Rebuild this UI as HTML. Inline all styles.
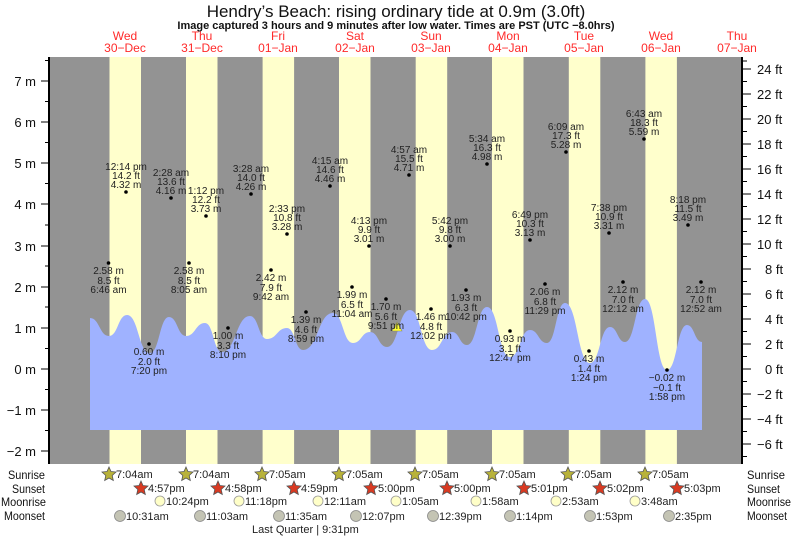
<!DOCTYPE html>
<html><head><meta charset="utf-8"><style>
html,body{margin:0;padding:0;background:#fff;}
svg{display:block;font-family:"Liberation Sans",sans-serif;}
</style></head><body>
<svg width="793" height="538" viewBox="0 0 793 538" xmlns="http://www.w3.org/2000/svg">
<rect width="793" height="538" fill="#fff"/>
<text x="396" y="17" font-size="17" text-anchor="middle" fill="#111">Hendry’s Beach: rising  ordinary tide at 0.9m (3.0ft)</text>
<text x="396" y="29" font-size="11" font-weight="bold" text-anchor="middle" fill="#111">Image captured 3 hours and 9 minutes after low water. Times are PST (UTC −8.0hrs)</text>
<g font-size="12" fill="#ff2a2a" text-anchor="middle">
<text x="125" y="40">Wed</text><text x="125" y="52">30−Dec</text>
<text x="202" y="40">Thu</text><text x="202" y="52">31−Dec</text>
<text x="278" y="40">Fri</text><text x="278" y="52">01−Jan</text>
<text x="355" y="40">Sat</text><text x="355" y="52">02−Jan</text>
<text x="431" y="40">Sun</text><text x="431" y="52">03−Jan</text>
<text x="508" y="40">Mon</text><text x="508" y="52">04−Jan</text>
<text x="584" y="40">Tue</text><text x="584" y="52">05−Jan</text>
<text x="661" y="40">Wed</text><text x="661" y="52">06−Jan</text>
<text x="737" y="40">Thu</text><text x="737" y="52">07−Jan</text>
</g>
<rect x="49" y="57" width="693" height="407" fill="#939393"/>
<g fill="#ffffcc">
<rect x="109.5" y="57" width="31.5" height="407"/>
<rect x="186" y="57" width="31.5" height="407"/>
<rect x="262.6" y="57" width="31.5" height="407"/>
<rect x="339" y="57" width="31.5" height="407"/>
<rect x="415.7" y="57" width="31.5" height="407"/>
<rect x="492" y="57" width="31.5" height="407"/>
<rect x="568.8" y="57" width="31.5" height="407"/>
<rect x="645.4" y="57" width="31.5" height="407"/>
</g>
<path fill="#9fb2ff" d="M90,430 L90,318 C99.5,318 99.5,336 109,336 C118,336 118,315 127,315 C138.5,315 138.5,353 150,353 C159.5,353 159.5,317 169,317 C177.5,317 177.5,336 186,336 C195.5,336 195.5,323 205,323 C213.5,323 213.5,352 222,352 C236,352 236,316 250,316 C258.5,316 258.5,339 267,339 C277,339 277,328 287,328 C295,328 295,350 303,350 C318,350 318,313 333,313 C343,313 343,343 353,343 C361.5,343 361.5,332 370,332 C378.5,332 378.5,347 387,347 C398.5,347 398.5,310 410,310 C421,310 421,350 432,350 C442,350 442,332 452,332 C459.5,332 459.5,345 467,345 C477,345 477,307 487,307 C498.5,307 498.5,357 510,357 C520,357 520,330 530,330 C538.5,330 538.5,343 547,343 C556,343 556,303 565,303 C577.5,303 577.5,363 590,363 C600,363 600,327 610,327 C617.5,327 617.5,342 625,342 C635,342 635,299 645,299 C656,299 656,370 667,370 C677,370 677,325 687,325 C694.5,325 694.5,342 702,342 L702,430 Z"/>
<line x1="49" y1="57" x2="49" y2="464" stroke="#000" stroke-width="2"/>
<line x1="742" y1="57" x2="742" y2="464" stroke="#000" stroke-width="2"/>
<g stroke="#000" stroke-width="1">
<line x1="41" y1="81" x2="48" y2="81"/><line x1="41" y1="122" x2="48" y2="122"/><line x1="41" y1="163" x2="48" y2="163"/><line x1="41" y1="204" x2="48" y2="204"/><line x1="41" y1="246" x2="48" y2="246"/><line x1="41" y1="287" x2="48" y2="287"/><line x1="41" y1="328" x2="48" y2="328"/><line x1="41" y1="369" x2="48" y2="369"/><line x1="41" y1="410" x2="48" y2="410"/><line x1="41" y1="451" x2="48" y2="451"/>
<line x1="45" y1="60.5" x2="48" y2="60.5"/><line x1="45" y1="101.5" x2="48" y2="101.5"/><line x1="45" y1="142.5" x2="48" y2="142.5"/><line x1="45" y1="183.5" x2="48" y2="183.5"/><line x1="45" y1="225" x2="48" y2="225"/><line x1="45" y1="266" x2="48" y2="266"/><line x1="45" y1="307" x2="48" y2="307"/><line x1="45" y1="348.5" x2="48" y2="348.5"/><line x1="45" y1="389.5" x2="48" y2="389.5"/><line x1="45" y1="430.5" x2="48" y2="430.5"/>
</g>
<g font-size="13" fill="#111" text-anchor="end">
<text x="36" y="86">7 m</text><text x="36" y="127">6 m</text><text x="36" y="168">5 m</text><text x="36" y="209">4 m</text><text x="36" y="251">3 m</text><text x="36" y="292">2 m</text><text x="36" y="333">1 m</text><text x="36" y="374">0 m</text><text x="36" y="415">−1 m</text><text x="36" y="456">−2 m</text>
</g>
<g stroke="#000" stroke-width="1">
<line x1="743" y1="69" x2="751" y2="69"/><line x1="743" y1="94" x2="751" y2="94"/><line x1="743" y1="119" x2="751" y2="119"/><line x1="743" y1="144" x2="751" y2="144"/><line x1="743" y1="169" x2="751" y2="169"/><line x1="743" y1="194" x2="751" y2="194"/><line x1="743" y1="219" x2="751" y2="219"/><line x1="743" y1="244" x2="751" y2="244"/><line x1="743" y1="269" x2="751" y2="269"/><line x1="743" y1="294" x2="751" y2="294"/><line x1="743" y1="319" x2="751" y2="319"/><line x1="743" y1="344" x2="751" y2="344"/><line x1="743" y1="369" x2="751" y2="369"/><line x1="743" y1="394" x2="751" y2="394"/><line x1="743" y1="419" x2="751" y2="419"/><line x1="743" y1="444" x2="751" y2="444"/>
<line x1="743" y1="81.5" x2="747" y2="81.5"/><line x1="743" y1="106.5" x2="747" y2="106.5"/><line x1="743" y1="131.5" x2="747" y2="131.5"/><line x1="743" y1="156.5" x2="747" y2="156.5"/><line x1="743" y1="181.5" x2="747" y2="181.5"/><line x1="743" y1="206.5" x2="747" y2="206.5"/><line x1="743" y1="231.5" x2="747" y2="231.5"/><line x1="743" y1="256.5" x2="747" y2="256.5"/><line x1="743" y1="281.5" x2="747" y2="281.5"/><line x1="743" y1="306.5" x2="747" y2="306.5"/><line x1="743" y1="331.5" x2="747" y2="331.5"/><line x1="743" y1="356.5" x2="747" y2="356.5"/><line x1="743" y1="381.5" x2="747" y2="381.5"/><line x1="743" y1="406.5" x2="747" y2="406.5"/><line x1="743" y1="431.5" x2="747" y2="431.5"/><line x1="743" y1="456.5" x2="747" y2="456.5"/><line x1="743" y1="61" x2="747" y2="61"/>
</g>
<g font-size="13" fill="#111">
<text x="757" y="74">24 ft</text><text x="757" y="99">22 ft</text><text x="757" y="124">20 ft</text><text x="757" y="149">18 ft</text><text x="757" y="174">16 ft</text><text x="757" y="199">14 ft</text><text x="757" y="224">12 ft</text><text x="757" y="249">10 ft</text><text x="765" y="274">8 ft</text><text x="765" y="299">6 ft</text><text x="765" y="324">4 ft</text><text x="765" y="349">2 ft</text><text x="765" y="374">0 ft</text><text x="757" y="399">−2 ft</text><text x="757" y="424">−4 ft</text><text x="757" y="449">−6 ft</text>
</g>
<g fill="#000">
<circle cx="108.5" cy="263" r="1.8"/><circle cx="126" cy="192" r="1.8"/><circle cx="149" cy="344" r="1.8"/><circle cx="171" cy="198" r="1.8"/><circle cx="189" cy="263" r="1.8"/><circle cx="206" cy="216" r="1.8"/><circle cx="228" cy="328" r="1.8"/><circle cx="251" cy="194" r="1.8"/><circle cx="271" cy="270" r="1.8"/><circle cx="287" cy="234" r="1.8"/><circle cx="306" cy="312" r="1.8"/><circle cx="330" cy="186" r="1.8"/><circle cx="352" cy="287" r="1.8"/><circle cx="369" cy="246" r="1.8"/><circle cx="386" cy="299" r="1.8"/><circle cx="409" cy="175" r="1.8"/><circle cx="431" cy="309" r="1.8"/><circle cx="450" cy="246" r="1.8"/><circle cx="466" cy="290" r="1.8"/><circle cx="487" cy="164" r="1.8"/><circle cx="510" cy="331" r="1.8"/><circle cx="530" cy="240" r="1.8"/><circle cx="545" cy="284" r="1.8"/><circle cx="566" cy="152" r="1.8"/><circle cx="589" cy="351" r="1.8"/><circle cx="609" cy="233" r="1.8"/><circle cx="623" cy="282" r="1.8"/><circle cx="644" cy="139" r="1.8"/><circle cx="667" cy="370" r="1.8"/><circle cx="688" cy="225" r="1.8"/><circle cx="701" cy="282" r="1.8"/>
</g>
<polygon points="397,322 402,331 392,331" fill="#ffff33" stroke="#886" stroke-width="0.6"/>
<g font-size="10" fill="#222" text-anchor="middle">
<text x="108.5" y="274">2.58 m</text><text x="108.5" y="284">8.5 ft</text><text x="108.5" y="293">6:46 am</text>
<text x="126" y="170">12:14 pm</text><text x="126" y="179">14.2 ft</text><text x="126" y="188">4.32 m</text>
<text x="149" y="355">0.60 m</text><text x="149" y="365">2.0 ft</text><text x="149" y="374">7:20 pm</text>
<text x="171" y="176">2:28 am</text><text x="171" y="185">13.6 ft</text><text x="171" y="194">4.16 m</text>
<text x="189" y="274">2.58 m</text><text x="189" y="284">8.5 ft</text><text x="189" y="293">8:05 am</text>
<text x="206" y="194">1:12 pm</text><text x="206" y="203">12.2 ft</text><text x="206" y="212">3.73 m</text>
<text x="228" y="339">1.00 m</text><text x="228" y="349">3.3 ft</text><text x="228" y="358">8:10 pm</text>
<text x="251" y="172">3:28 am</text><text x="251" y="181">14.0 ft</text><text x="251" y="190">4.26 m</text>
<text x="271" y="281">2.42 m</text><text x="271" y="291">7.9 ft</text><text x="271" y="300">9:42 am</text>
<text x="287" y="212">2:33 pm</text><text x="287" y="221">10.8 ft</text><text x="287" y="230">3.28 m</text>
<text x="306" y="323">1.39 m</text><text x="306" y="333">4.6 ft</text><text x="306" y="342">8:59 pm</text>
<text x="330" y="164">4:15 am</text><text x="330" y="173">14.6 ft</text><text x="330" y="182">4.46 m</text>
<text x="352" y="298">1.99 m</text><text x="352" y="308">6.5 ft</text><text x="352" y="317">11:04 am</text>
<text x="369" y="224">4:13 pm</text><text x="369" y="233">9.9 ft</text><text x="369" y="242">3.01 m</text>
<text x="386" y="310">1.70 m</text><text x="386" y="320">5.6 ft</text><text x="386" y="329">9:51 pm</text>
<text x="409" y="153">4:57 am</text><text x="409" y="162">15.5 ft</text><text x="409" y="171">4.71 m</text>
<text x="431" y="320">1.46 m</text><text x="431" y="330">4.8 ft</text><text x="431" y="339">12:02 pm</text>
<text x="450" y="224">5:42 pm</text><text x="450" y="233">9.8 ft</text><text x="450" y="242">3.00 m</text>
<text x="466" y="301">1.93 m</text><text x="466" y="311">6.3 ft</text><text x="466" y="320">10:42 pm</text>
<text x="487" y="142">5:34 am</text><text x="487" y="151">16.3 ft</text><text x="487" y="160">4.98 m</text>
<text x="510" y="342">0.93 m</text><text x="510" y="352">3.1 ft</text><text x="510" y="361">12:47 pm</text>
<text x="530" y="218">6:49 pm</text><text x="530" y="227">10.3 ft</text><text x="530" y="236">3.13 m</text>
<text x="545" y="295">2.06 m</text><text x="545" y="305">6.8 ft</text><text x="545" y="314">11:29 pm</text>
<text x="566" y="130">6:09 am</text><text x="566" y="139">17.3 ft</text><text x="566" y="148">5.28 m</text>
<text x="589" y="362">0.43 m</text><text x="589" y="372">1.4 ft</text><text x="589" y="381">1:24 pm</text>
<text x="609" y="211">7:38 pm</text><text x="609" y="220">10.9 ft</text><text x="609" y="229">3.31 m</text>
<text x="623" y="293">2.12 m</text><text x="623" y="303">7.0 ft</text><text x="623" y="312">12:12 am</text>
<text x="644" y="117">6:43 am</text><text x="644" y="126">18.3 ft</text><text x="644" y="135">5.59 m</text>
<text x="667" y="381">−0.02 m</text><text x="667" y="391">−0.1 ft</text><text x="667" y="400">1:58 pm</text>
<text x="688" y="203">8:18 pm</text><text x="688" y="212">11.5 ft</text><text x="688" y="221">3.49 m</text>
<text x="701" y="293">2.12 m</text><text x="701" y="303">7.0 ft</text><text x="701" y="312">12:52 am</text>
</g>
<g font-size="12" fill="#111">
<text x="8" y="479" textLength="37" lengthAdjust="spacingAndGlyphs">Sunrise</text><text x="12" y="493" textLength="33" lengthAdjust="spacingAndGlyphs">Sunset</text><text x="1" y="506" textLength="45" lengthAdjust="spacingAndGlyphs">Moonrise</text><text x="4" y="520" textLength="41" lengthAdjust="spacingAndGlyphs">Moonset</text>
<text x="747" y="479" textLength="38" lengthAdjust="spacingAndGlyphs">Sunrise</text><text x="747" y="493" textLength="33" lengthAdjust="spacingAndGlyphs">Sunset</text><text x="747" y="506" textLength="44" lengthAdjust="spacingAndGlyphs">Moonrise</text><text x="747" y="520" textLength="40" lengthAdjust="spacingAndGlyphs">Moonset</text>
</g>
<defs>
<polygon id="star" points="0,-7 2,-2.5 7,-2 3.2,1.5 4.3,6.5 0,4 -4.3,6.5 -3.2,1.5 -7,-2 -2,-2.5" stroke="#555" stroke-width="0.8"/>
</defs>
<g fill="#b8b23a">
<use href="#star" x="109" y="474"/><use href="#star" x="186" y="474"/><use href="#star" x="262" y="474"/><use href="#star" x="339" y="474"/><use href="#star" x="415" y="474"/><use href="#star" x="492" y="474"/><use href="#star" x="568" y="474"/><use href="#star" x="645" y="474"/>
</g>
<g fill="#d83a22">
<use href="#star" x="141" y="488"/><use href="#star" x="218" y="488"/><use href="#star" x="294" y="488"/><use href="#star" x="371" y="488"/><use href="#star" x="447" y="488"/><use href="#star" x="524" y="488"/><use href="#star" x="600" y="488"/><use href="#star" x="677" y="488"/>
</g>
<g fill="#ffffc8" stroke="#999" stroke-width="0.8">
<circle cx="160" cy="501" r="5"/><circle cx="239" cy="501" r="5"/><circle cx="318" cy="501" r="5"/><circle cx="396" cy="501" r="5"/><circle cx="476" cy="501" r="5"/><circle cx="556" cy="501" r="5"/><circle cx="635" cy="501" r="5"/>
</g>
<g fill="#c4c4b4" stroke="#888" stroke-width="0.8">
<circle cx="120" cy="516" r="5.5"/><circle cx="200" cy="516" r="5.5"/><circle cx="279" cy="516" r="5.5"/><circle cx="356" cy="516" r="5.5"/><circle cx="433" cy="516" r="5.5"/><circle cx="510" cy="516" r="5.5"/><circle cx="590" cy="516" r="5.5"/><circle cx="669" cy="516" r="5.5"/>
</g>
<g font-size="11" fill="#222">
<text x="116" y="478">7:04am</text><text x="193" y="478">7:04am</text><text x="269" y="478">7:05am</text><text x="346" y="478">7:05am</text><text x="422" y="478">7:05am</text><text x="499" y="478">7:05am</text><text x="575" y="478">7:05am</text><text x="652" y="478">7:05am</text>
<text x="148" y="492">4:57pm</text><text x="225" y="492">4:58pm</text><text x="301" y="492">4:59pm</text><text x="378" y="492">5:00pm</text><text x="454" y="492">5:00pm</text><text x="531" y="492">5:01pm</text><text x="607" y="492">5:02pm</text><text x="684" y="492">5:03pm</text>
<text x="166" y="505">10:24pm</text><text x="245" y="505">11:18pm</text><text x="324" y="505">12:11am</text><text x="402" y="505">1:05am</text><text x="482" y="505">1:58am</text><text x="562" y="505">2:53am</text><text x="641" y="505">3:48am</text>
<text x="126" y="520">10:31am</text><text x="206" y="520">11:03am</text><text x="285" y="520">11:35am</text><text x="362" y="520">12:07pm</text><text x="439" y="520">12:39pm</text><text x="516" y="520">1:14pm</text><text x="596" y="520">1:53pm</text><text x="675" y="520">2:35pm</text>
<text x="252" y="533">Last Quarter | 9:31pm</text>
</g>
</svg>
</body></html>
